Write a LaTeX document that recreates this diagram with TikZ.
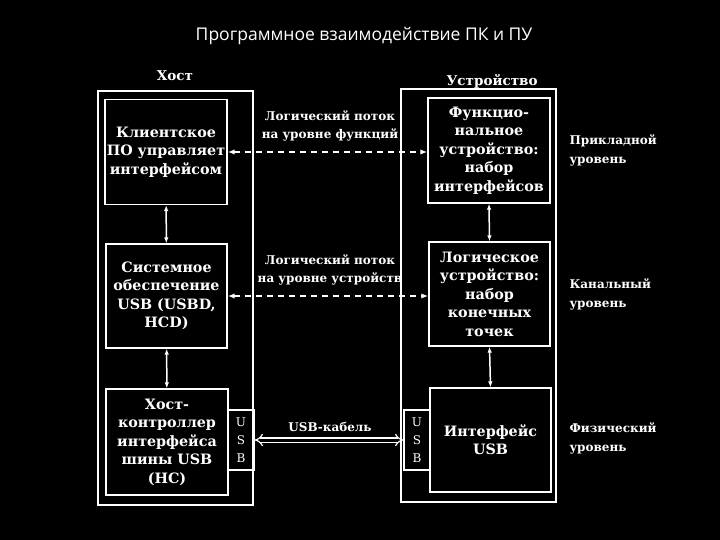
\documentclass[tikz,border=0pt]{standalone}
\usepackage{fontspec}
\setmainfont{DejaVu Serif}
\newfontfamily\titlefont{Open Sans}
\usetikzlibrary{arrows.meta}
\tikzset{
  blk/.style={draw=white, line width=1.2pt, align=center, font=\bfseries\fontsize{14.3}{18.5}\selectfont, inner sep=0pt},
  lbl/.style={white, align=center, font=\bfseries\fontsize{12}{18}\selectfont},
  side/.style={white, align=left, anchor=west, font=\bfseries\fontsize{12}{19}\selectfont},
  vlink/.style={white, line width=1.5pt, {Latex[length=6pt]}-{Latex[length=6pt]}},
  flow/.style={white, line width=1.5pt, dashed, dash pattern=on 6pt off 5pt, {Latex[length=7pt]}-{Latex[length=7pt]}}
}
\begin{document}
\begin{tikzpicture}[x=1pt, y=-1pt, white]
\fill[black] (0,0) rectangle (720,540);
\useasboundingbox (0,0) rectangle (720,540);
\node[font=\titlefont\fontsize{17.5}{20}\selectfont] (title) at (364,36) {Программное взаимодействие ПК и ПУ};
% Frames
\draw[line width=1.2pt] (98,91) rectangle (253,505);
\draw[line width=1.2pt] (401,89) rectangle (556,502);
\node[lbl, font=\bfseries\fontsize{13.5}{18}\selectfont] (host) at (175,76) {Хост};
\node[lbl, font=\bfseries\fontsize{13.5}{18}\selectfont] (dev) at (492,81) {Устройство};
% Host blocks
\node[blk, minimum width=122pt, minimum height=105pt] (client) at (166,152) {Клиентское\\ПО управляет\\интерфейсом};
\node[blk, minimum width=121pt, minimum height=104pt] (sys) at (166.5,296) {Системное\\обеспечение\\USB (USBD,\\HCD)};
\node[blk, minimum width=122pt, minimum height=106pt] (hc) at (167,442) {Хост-\\контроллер\\интерфейса\\шины USB\\(HC)};
\node[blk, minimum width=26pt, minimum height=60pt, font=\fontsize{12}{15}\selectfont] (husb) at (241,440) {U\\[3pt]S\\[3pt]B};
% Device blocks
\node[blk, minimum width=122pt, minimum height=105pt] (func) at (489,150.5) {Функцио-\\нальное\\устройство:\\набор\\интерфейсов};
\node[blk, minimum width=121pt, minimum height=104pt] (logic) at (489.5,294) {Логическое\\устройство:\\набор\\конечных\\точек};
\node[blk, minimum width=121pt, minimum height=104pt] (iface) at (490.5,440) {Интерфейс\\USB};
\node[blk, minimum width=26pt, minimum height=60pt, font=\fontsize{12}{15}\selectfont] (dusb) at (417,440) {U\\[3pt]S\\[3pt]B};
% Links
\draw[vlink] (client) -- (sys);
\draw[vlink] (sys) -- (hc);
\draw[vlink] (func.south) -- (logic.north);
\draw[vlink] (logic.south) -- (iface.north);
\draw[flow] (client.east) -- (func.west |- client.east);
\draw[flow] (sys.east) -- (logic.west |- sys.east);
\draw[white, double=black, double distance=3pt, line width=1.2pt, {Implies}-{Implies}] (husb.east) -- (dusb.west);
% Labels
\node[lbl] (fflow) at (330,126) {Логический поток\\на уровне функций};
\node[lbl] (dflow) at (330,270) {Логический поток\\на уровне устройств};
\node[lbl] (cable) at (330,427) {USB-кабель};
\node[side] (app) at (566,150) {Прикладной\\уровень};
\node[side] (chan) at (566,294) {Канальный\\уровень};
\node[side] (phys) at (566,438) {Физический\\уровень};
\end{tikzpicture}
\end{document}
